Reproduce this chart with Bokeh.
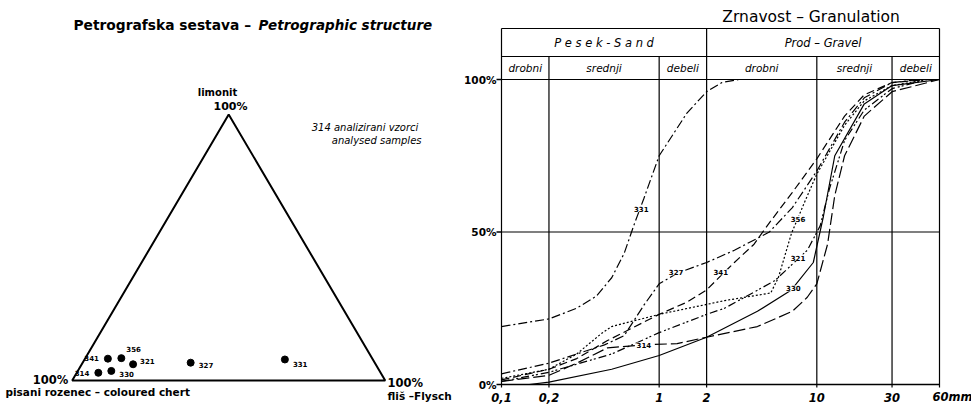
import math
from bokeh.plotting import figure
from bokeh.layouts import row
from bokeh.models import Range1d
from bokeh.core.properties import value
from bokeh.embed import file_html
from bokeh.resources import INLINE

# ---------------- data: petrographic composition (ternary, %) ----------------
samples = ["341", "356", "321", "314", "330", "327", "331"]
limonit = [8.2, 8.4, 6.1, 2.9, 3.6, 6.7, 7.9]
flysch = [7.3, 11.5, 16.4, 6.9, 10.7, 34.5, 64.0]

# ---------------- data: grain-size curves (diameter mm, cumulative %) ---------
d331 = [0.1, 0.2, 0.3, 0.4, 0.5, 0.6, 0.7, 0.8, 1.0, 1.5, 2.0, 2.5, 3.2]
p331 = [19, 21.5, 25, 29, 35, 43, 53, 61, 75, 89, 96, 99, 100]
d327 = [0.1, 0.2, 0.3, 0.45, 0.6, 0.8, 1.0, 1.3, 2, 3, 5, 7, 10, 15, 20, 30, 45]
p327 = [3.5, 7, 10, 13, 16, 26, 33, 36.5, 40, 44, 50, 58, 70, 86, 94, 99, 100]
d341 = [0.1, 0.2, 0.3, 0.47, 1, 1.5, 2, 2.5, 3, 4, 5, 7, 10, 15, 20, 30, 50]
p341 = [1.5, 5, 8.5, 14.4, 23, 27, 31, 36, 40, 46, 53, 63, 74, 88, 95, 99, 100]
d356 = [0.1, 0.2, 0.3, 0.43, 0.5, 1, 2.6, 5.1, 5.7, 6.9, 8.4, 10, 15, 20, 30, 50]
p356 = [2, 5, 10, 16.7, 19, 23, 27.5, 30, 35, 49.5, 60, 69, 85, 93, 98, 100]
d321 = [0.1, 0.2, 0.5, 1, 2, 2.6, 5.4, 8.7, 10.5, 12, 15, 20, 30, 50]
p321 = [1, 4, 10, 17, 23, 25, 34, 44, 52, 64, 80, 90, 97, 100]
d330 = [0.15, 0.2, 0.5, 1, 2, 4.2, 6.9, 9.5, 11, 13, 20, 30, 60]
p330 = [0, 0.8, 5, 9.5, 15.5, 24, 31, 40, 55, 75, 92, 98, 100]
d314 = [0.1, 0.2, 0.3, 0.47, 0.8, 1.3, 2, 4.2, 7, 8.7, 10, 11.7, 13, 15, 20, 30, 60]
p314 = [1, 3, 7, 12, 13, 13.4, 15.5, 19, 24, 28.6, 33, 46, 62, 75, 88, 96, 100]

curve_d = [d331, d327, d341, d356, d321, d330, d314]
curve_p = [p331, p327, p341, p356, p321, p330, p314]
curve_names = ["331", "327", "341", "356", "321", "330", "314"]
label_d = [0.77, 1.28, 2.46, 7.6, 7.6, 7.1, 0.8]
label_p = [57.7, 36.8, 36.8, 54.4, 41.6, 31.5, 12.8]
dashes = ["9 3 2 3", "9 3 2 3", "8 4", "2 2", "8 3 2 2 2 3", "solid", "12 4"]

x_ticks = [0.1, 0.2, 1, 2, 10, 30, 60]
x_tick_labels = ["0,1", "0,2", "1", "2", "10", "30", "60mm"]
y_ticks = [0, 50, 100]
y_tick_labels = ["0%", "50%", "100%"]

main_groups = ["P e s e k - S a n d", "Prod \u2013 Gravel"]
main_bounds = [0.1, 2, 60]
sub_groups = ["drobni", "srednji", "debeli", "drobni", "srednji", "debeli"]
sub_bounds = [0.1, 0.2, 1, 2, 10, 30, 60]

FONT = "DejaVu Sans"
W_LEFT, W_RIGHT, HEIGHT = 460, 511, 409

# ======================= left panel: ternary diagram ==========================
H = 0.85          # height of the triangle in base units
S = 313.0         # pixels per base unit
OX, OY = 71.7, 380.0   # pixel position of the 100% chert corner


def tx(px):
    return (px - OX) / S


def ty(py):
    return (OY - py) / S


p1 = figure(width=W_LEFT, height=HEIGHT, x_range=Range1d(tx(0), tx(W_LEFT)),
            y_range=Range1d(ty(HEIGHT), ty(0)), output_backend="svg",
            toolbar_location=None, min_border=0,
            x_axis_location=None, y_axis_location=None)
p1.grid.visible = False
p1.outline_line_color = None

p1.patch([0, 1, 0.5], [0, 0, H], fill_color=None, line_color="black", line_width=2)

px = [f / 100 + 0.5 * l / 100 for f, l in zip(flysch, limonit)]
py = [H * l / 100 for l in limonit]
p1.scatter(px, py, size=7, color="black")

off_x = [-9, 5, 7, -9, 8, 8, 8]
off_y = [-1, -9, -3, 0, 3, 2, 5]
align = ["right", "left", "left", "right", "left", "left", "left"]
for i, s in enumerate(samples):
    p1.text([px[i]], [py[i]], text=[s], x_offset=off_x[i], y_offset=off_y[i],
            text_align=align[i], text_baseline="middle", text_font_size="7px",
            text_font=value(FONT), text_font_style="bold")


def t1(x, y, s, size="11px", style="bold", align="center"):
    p1.text([tx(x)], [ty(y)], text=[s], text_align=align, text_baseline="middle",
            text_font_size=size, text_font=value(FONT), text_font_style=style)


t1(73, 24, "Petrografska sestava \u2013", size="13.8px", align="left")
t1(258, 24, "Petrographic structure", size="13.5px", style="bold italic", align="left")
t1(217, 92, "limonit", size="10px")
t1(230, 106, "100%", size="11px")
t1(421, 127, "314 analizirani  vzorci", size="10px", style="italic", align="right")
t1(421, 140, "analysed samples", size="10px", style="italic", align="right")
t1(50, 379, "100%", size="11.5px")
t1(5, 391, "pisani  rozenec \u2013 coloured  chert", size="10.5px", align="left")
t1(387, 382, "100%", size="11.5px", align="left")
t1(387, 395, "fli\u0161 \u2013Flysch", size="10.5px", align="left")

# ======================= right panel: granulation curves ======================
PPP = 3.05          # pixels per percent
Y0 = 384            # pixel row of 0 %
XL, XR = 501, 939   # pixel columns of 0.1 mm and 60 mm
X0 = 460            # left pixel column of the right panel
DEC = (XR - XL) / math.log10(600)   # pixels per decade


def dx(pxl):
    return 0.1 * 10 ** ((pxl - XL) / DEC)


TOP = Y0 / PPP
BOTTOM = -(HEIGHT - Y0) / PPP
ROW2 = 100 + (79 - 56) / PPP
ROW1 = 100 + (79 - 28) / PPP

p2 = figure(width=W_RIGHT, height=HEIGHT, x_axis_type="log",
            x_range=Range1d(dx(X0), dx(X0 + W_RIGHT)),
            y_range=Range1d(BOTTOM, TOP), output_backend="svg", toolbar_location=None,
            x_axis_location=None, y_axis_location=None, min_border=0)
p2.grid.visible = False
p2.outline_line_color = None

# grid / frame lines
vx, vy0, vy1 = [], [], []
for b in sub_bounds:
    vx.append(b)
    vy0.append(-1)
    vy1.append(ROW1 if b in main_bounds else ROW2)
p2.segment(x0=vx, y0=vy0, x1=vx, y1=vy1, line_color="black", line_width=1.2)
hy = [0, 50, 100, ROW2, ROW1]
p2.segment(x0=[0.1] * len(hy), y0=hy, x1=[60] * len(hy), y1=hy,
           line_color="black", line_width=[1.5, 1.2, 1.2, 1.2, 1.2])

# y ticks and labels
p2.ray(x=[0.1] * len(y_ticks), y=y_ticks, length=5, length_units="screen",
       angle=math.pi, line_color="black", line_width=1.5)
p2.text([0.1] * len(y_ticks), y_ticks, text=y_tick_labels, x_offset=-5,
        text_align="right", text_baseline="middle", text_font_size="10.5px",
        text_font=value(FONT), text_font_style="bold")

# x tick labels
lab_off = [0, 0, 0, 0, 0, 0, 13]
p2.text(x_ticks, [-4.2] * len(x_ticks), text=x_tick_labels, x_offset=lab_off,
        text_align="center", text_baseline="middle", text_font_size="11.5px",
        text_font=value(FONT), text_font_style="bold italic")

# header texts
for i, g in enumerate(main_groups):
    cx = math.sqrt(main_bounds[i] * main_bounds[i + 1])
    p2.text([cx], [(ROW2 + ROW1) / 2], text=[g], text_align="center",
            text_baseline="middle", text_font_size="11.5px",
            text_font=value(FONT), text_font_style="italic")
for i, g in enumerate(sub_groups):
    cx = math.sqrt(sub_bounds[i] * sub_bounds[i + 1])
    p2.text([cx], [(100 + ROW2) / 2], text=[g], text_align="center",
            text_baseline="middle", text_font_size="10.5px",
            text_font=value(FONT), text_font_style="italic")

p2.text([9.2], [120.4], text=["Zrnavost \u2013 Granulation"], text_align="center",
        text_baseline="middle", text_font_size="15.5px", text_font=value(FONT))

for d, pc, dash in zip(curve_d, curve_p, dashes):
    p2.line(d, pc, line_color="black", line_width=1.2, line_dash=dash)

p2.text(label_d, label_p, text=curve_names, text_align="center", text_baseline="middle",
        text_font_size="7px", text_font=value(FONT), text_font_style="bold",
        background_fill_color="white")

layout = row(p1, p2)
open("out.html", "w").write(file_html(layout, INLINE))
